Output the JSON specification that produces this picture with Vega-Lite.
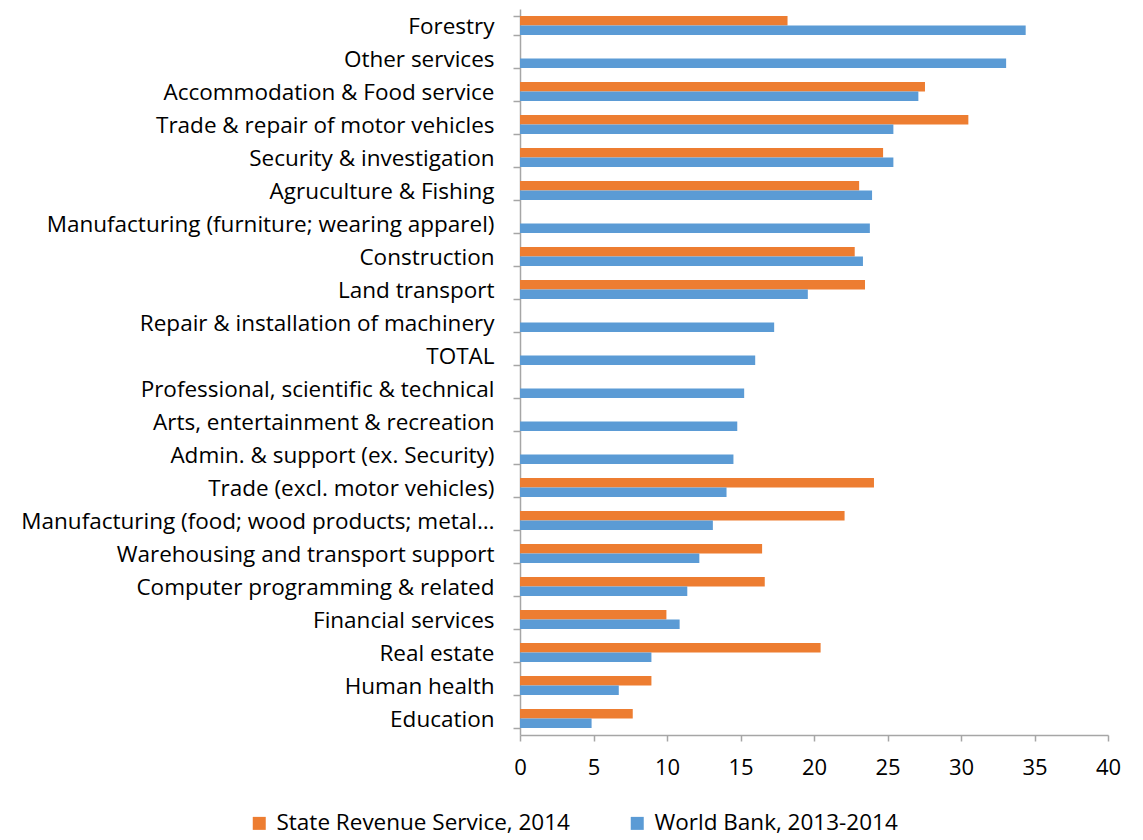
{
  "$schema": "https://vega.github.io/schema/vega-lite/v6.json",
  "width": 588,
  "height": 726,
  "autosize": "none",
  "padding": {"left": 520, "top": 9, "right": 35, "bottom": 105},
  "background": "white",
  "config": {
    "view": {"stroke": null},
    "font": "Open Sans",
    "axis": {"labelFont": "Open Sans", "labelColor": "#000000", "domainColor": "#A6A6A6", "tickColor": "#A6A6A6", "domainWidth": 1.5, "tickWidth": 1.5},
    "legend": {"labelFont": "Open Sans", "labelColor": "#000000"}
  },
  "data": {
    "values": [
      {"category": "Forestry", "series": "State Revenue Service, 2014", "value": 18.2},
      {"category": "Forestry", "series": "World Bank, 2013-2014", "value": 34.4},
      {"category": "Other services", "series": "World Bank, 2013-2014", "value": 33.07},
      {"category": "Accommodation & Food service", "series": "State Revenue Service, 2014", "value": 27.55},
      {"category": "Accommodation & Food service", "series": "World Bank, 2013-2014", "value": 27.1},
      {"category": "Trade & repair of motor vehicles", "series": "State Revenue Service, 2014", "value": 30.5},
      {"category": "Trade & repair of motor vehicles", "series": "World Bank, 2013-2014", "value": 25.4},
      {"category": "Security & investigation", "series": "State Revenue Service, 2014", "value": 24.7},
      {"category": "Security & investigation", "series": "World Bank, 2013-2014", "value": 25.4},
      {"category": "Agruculture & Fishing", "series": "State Revenue Service, 2014", "value": 23.07},
      {"category": "Agruculture & Fishing", "series": "World Bank, 2013-2014", "value": 23.95},
      {"category": "Manufacturing (furniture; wearing apparel)", "series": "World Bank, 2013-2014", "value": 23.8},
      {"category": "Construction", "series": "State Revenue Service, 2014", "value": 22.77},
      {"category": "Construction", "series": "World Bank, 2013-2014", "value": 23.33},
      {"category": "Land transport", "series": "State Revenue Service, 2014", "value": 23.47},
      {"category": "Land transport", "series": "World Bank, 2013-2014", "value": 19.58},
      {"category": "Repair & installation of machinery", "series": "World Bank, 2013-2014", "value": 17.29},
      {"category": "TOTAL", "series": "World Bank, 2013-2014", "value": 16.0},
      {"category": "Professional, scientific & technical", "series": "World Bank, 2013-2014", "value": 15.25},
      {"category": "Arts, entertainment & recreation", "series": "World Bank, 2013-2014", "value": 14.78},
      {"category": "Admin. & support (ex. Security)", "series": "World Bank, 2013-2014", "value": 14.52},
      {"category": "Trade (excl. motor vehicles)", "series": "State Revenue Service, 2014", "value": 24.08},
      {"category": "Trade (excl. motor vehicles)", "series": "World Bank, 2013-2014", "value": 14.05},
      {"category": "Manufacturing (food; wood products; metal…", "series": "State Revenue Service, 2014", "value": 22.08},
      {"category": "Manufacturing (food; wood products; metal…", "series": "World Bank, 2013-2014", "value": 13.12},
      {"category": "Warehousing and transport support", "series": "State Revenue Service, 2014", "value": 16.47},
      {"category": "Warehousing and transport support", "series": "World Bank, 2013-2014", "value": 12.2},
      {"category": "Computer programming & related", "series": "State Revenue Service, 2014", "value": 16.65},
      {"category": "Computer programming & related", "series": "World Bank, 2013-2014", "value": 11.38},
      {"category": "Financial services", "series": "State Revenue Service, 2014", "value": 9.96},
      {"category": "Financial services", "series": "World Bank, 2013-2014", "value": 10.86},
      {"category": "Real estate", "series": "State Revenue Service, 2014", "value": 20.45},
      {"category": "Real estate", "series": "World Bank, 2013-2014", "value": 8.94},
      {"category": "Human health", "series": "State Revenue Service, 2014", "value": 8.94},
      {"category": "Human health", "series": "World Bank, 2013-2014", "value": 6.72},
      {"category": "Education", "series": "State Revenue Service, 2014", "value": 7.67},
      {"category": "Education", "series": "World Bank, 2013-2014", "value": 4.87}
    ]
  },
  "mark": {"type": "bar"},
  "encoding": {
    "y": {
      "field": "category",
      "type": "nominal",
      "sort": ["Forestry", "Other services", "Accommodation & Food service", "Trade & repair of motor vehicles", "Security & investigation", "Agruculture & Fishing", "Manufacturing (furniture; wearing apparel)", "Construction", "Land transport", "Repair & installation of machinery", "TOTAL", "Professional, scientific & technical", "Arts, entertainment & recreation", "Admin. & support (ex. Security)", "Trade (excl. motor vehicles)", "Manufacturing (food; wood products; metal…", "Warehousing and transport support", "Computer programming & related", "Financial services", "Real estate", "Human health", "Education"],
      "scale": {"paddingInner": 0.424, "paddingOuter": 0.212},
      "axis": {"title": null, "labelFontSize": 22.5, "tickSize": 7, "labelPadding": 19, "tickBand": "extent", "labelLimit": 0, "labelOffset": 1}
    },
    "yOffset": {
      "field": "series",
      "type": "nominal",
      "sort": ["State Revenue Service, 2014", "World Bank, 2013-2014"]
    },
    "x": {
      "field": "value",
      "type": "quantitative",
      "scale": {"domain": [0, 40], "nice": false},
      "axis": {"title": null, "values": [0, 5, 10, 15, 20, 25, 30, 35, 40], "grid": false, "labelFontSize": 22, "labelFlush": false, "labelOverlap": false, "tickSize": 6, "labelPadding": 16}
    },
    "color": {
      "field": "series",
      "type": "nominal",
      "scale": {"domain": ["State Revenue Service, 2014", "World Bank, 2013-2014"], "range": ["#ED7D31", "#5B9BD5"]},
      "legend": {"title": null, "orient": "none", "legendX": -272, "legendY": 803, "direction": "horizontal", "symbolType": "square", "symbolSize": 169, "symbolStrokeWidth": 0, "labelFontSize": 22.5, "labelLimit": 0, "columnPadding": 56, "labelOffset": 6}
    }
  }
}
